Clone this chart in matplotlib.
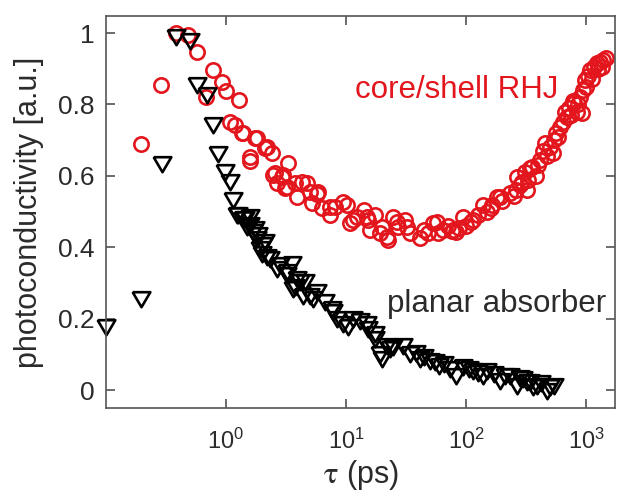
import matplotlib
matplotlib.use('Agg')
from matplotlib import pyplot as plt

# core/shell RHJ (red circles): delay time (ps) and normalised photoconductivity
rhj_tau = [0.195, 0.291, 0.388, 0.485, 0.58, 0.68, 0.78, 0.92, 1.0, 1.09, 1.19, 1.29,
           1.35, 1.39, 1.58, 1.58, 1.74, 1.8, 2.11, 2.18, 2.4, 2.48, 2.56, 2.65, 2.91,
           3.0, 3.1, 3.2, 3.3, 3.76, 3.88, 4.27, 4.7, 5.0, 5.2, 5.7, 5.9, 6.3, 7.36,
           7.36, 8.1, 9.5, 10.2, 10.8, 11.5, 12.3, 14.0, 14.9, 15.3, 15.8, 17.4, 19.2,
           19.8, 21.8, 22.5, 24.8, 26.5, 27.3, 31, 32, 34, 41, 45, 48, 53, 57, 58, 64,
           70, 76, 78, 83, 88, 94, 100, 110, 115, 125, 139, 150, 160, 165, 180, 192,
           200, 233, 250, 260, 265, 280, 292, 310, 320, 330, 343, 355, 380, 400, 414,
           440, 455, 470, 500, 530, 534, 560, 580, 607, 640, 660, 690, 720, 750, 780,
           785, 830, 860, 890, 920, 940, 980, 1000, 1030, 1080, 1120, 1150, 1220, 1250,
           1300, 1350, 1390, 1460]
rhj_pc = [0.689, 0.854, 1.0, 0.994, 0.948, 0.82, 0.896, 0.864, 0.838, 0.752, 0.742, 0.812,
          0.72, 0.719, 0.642, 0.654, 0.705, 0.705, 0.677, 0.682, 0.663, 0.602, 0.607, 0.579,
          0.598, 0.602, 0.565, 0.57, 0.635, 0.579, 0.541, 0.584, 0.579, 0.555, 0.523, 0.55,
          0.555, 0.509, 0.49, 0.513, 0.513, 0.527, 0.52, 0.467, 0.476, 0.485, 0.504, 0.485,
          0.476, 0.448, 0.49, 0.439, 0.457, 0.429, 0.42, 0.485, 0.47, 0.457, 0.476, 0.457,
          0.439, 0.425, 0.45, 0.44, 0.467, 0.47, 0.44, 0.448, 0.46, 0.445, 0.448, 0.443,
          0.455, 0.485, 0.46, 0.47, 0.476, 0.49, 0.518, 0.5, 0.51, 0.52, 0.541, 0.54, 0.53,
          0.551, 0.545, 0.56, 0.597, 0.575, 0.584, 0.61, 0.56, 0.59, 0.621, 0.625, 0.6,
          0.63, 0.644, 0.67, 0.691, 0.655, 0.68, 0.664, 0.7, 0.72, 0.71, 0.738, 0.75, 0.78,
          0.766, 0.79, 0.77, 0.81, 0.803, 0.78, 0.8, 0.822, 0.776, 0.84, 0.868, 0.85, 0.88,
          0.896, 0.87, 0.905, 0.915, 0.9, 0.92, 0.905, 0.924, 0.93]

# planar absorber (black triangles)
pa_tau = [0.1, 0.198, 0.294, 0.388, 0.5, 0.57, 0.69, 0.78, 0.86, 0.98, 1.08, 1.15, 1.23,
          1.27, 1.39, 1.44, 1.49, 1.58, 1.58, 1.69, 1.74, 1.8, 1.86, 1.92, 1.98, 2.04,
          2.11, 2.18, 2.33, 2.65, 2.82, 3.2, 3.2, 3.53, 3.64, 3.76, 3.9, 4.14, 4.4, 4.55,
          5.0, 5.3, 5.7, 6.7, 7.6, 7.8, 8.4, 9.5, 10.4, 11.5, 13, 14.9, 15.3, 17.4, 17.4,
          19.2, 19.8, 21.8, 23.3, 24.8, 29.9, 34, 38, 41, 45, 50, 55, 60, 66, 73, 83, 94,
          105, 115, 125, 139, 150, 169, 191, 210, 233, 265, 280, 299, 320, 343, 360, 390,
          420, 470, 500, 535]
pa_pc = [0.182, 0.261, 0.64, 0.994, 0.982, 0.859, 0.831, 0.747, 0.668, 0.616, 0.588, 0.537,
         0.495, 0.495, 0.485, 0.485, 0.462, 0.467, 0.49, 0.448, 0.457, 0.429, 0.439, 0.401,
         0.387, 0.411, 0.42, 0.378, 0.373, 0.345, 0.355, 0.327, 0.336, 0.359, 0.289, 0.294,
         0.317, 0.308, 0.271, 0.308, 0.271, 0.261, 0.28, 0.252, 0.233, 0.224, 0.205, 0.191,
         0.182, 0.205, 0.201, 0.191, 0.177, 0.163, 0.149, 0.107, 0.093, 0.131, 0.121, 0.126,
         0.131, 0.107, 0.11, 0.093, 0.1, 0.089, 0.085, 0.075, 0.08, 0.065, 0.047, 0.07,
         0.065, 0.061, 0.055, 0.047, 0.06, 0.051, 0.033, 0.045, 0.047, 0.019, 0.04, 0.037,
         0.03, 0.028, 0.015, 0.019, 0.025, 0.005, 0.015, 0.019]

y_ticks = [0, 0.2, 0.4, 0.6, 0.8, 1]
y_labels = ['0', '0.2', '0.4', '0.6', '0.8', '1']
x_ticks = [1, 10, 100, 1000]


def main():
    plt.rcParams['font.family'] = ['Liberation Sans', 'DejaVu Sans']
    plt.rcParams['mathtext.fontset'] = 'stix'

    red = '#e3161d'
    txt = '#2b2b2b'
    # wider, equilateral-looking down triangle
    tri = [(-1, 0.6), (1, 0.6), (0, -1.1), (-1, 0.6)]

    fig = plt.figure(figsize=(6.22, 4.96), dpi=100)
    ax = fig.add_axes([0.170, 0.177, 0.819, 0.791])

    ax.plot(rhj_tau, rhj_pc, linestyle='none', marker='o', markersize=10.3,
            markerfacecolor='none', markeredgecolor=red, markeredgewidth=1.9)
    ax.plot(pa_tau, pa_pc, linestyle='none', marker=tri, markersize=14,
            markerfacecolor='none', markeredgecolor='black', markeredgewidth=1.9,
            clip_on=False)

    ax.set_xscale('log')
    ax.set_xlim(0.1, 1740)
    ax.set_ylim(-0.05, 1.048)
    ax.set_xticks(x_ticks)
    ax.minorticks_off()
    ax.set_yticks(y_ticks)
    ax.set_yticklabels(y_labels)

    # inward ticks on all four sides, like the original figure
    ax.tick_params(direction='in', length=6.5, width=1.1, top=True, right=True,
                   colors='#444444', labelcolor=txt)
    ax.tick_params(axis='y', labelsize=19, pad=8)
    ax.tick_params(axis='x', labelsize=17, pad=15)
    for s in ax.spines.values():
        s.set_color('#555555')
        s.set_linewidth(1.2)

    ax.set_ylabel('photoconductivity [a.u.]', fontsize=22, color=txt, labelpad=10)
    ax.set_xlabel(r'$\mathrm{\tau}$ (ps)', fontsize=22, color=txt, labelpad=3)

    ax.text(11.9, 0.818, 'core/shell RHJ', color=red, fontsize=22.5,
            ha='left', va='baseline')
    ax.text(22.0, 0.219, 'planar absorber', color=txt, fontsize=22.5,
            ha='left', va='baseline')

    fig.savefig('out.png', dpi=100)


if __name__ == '__main__':
    main()
